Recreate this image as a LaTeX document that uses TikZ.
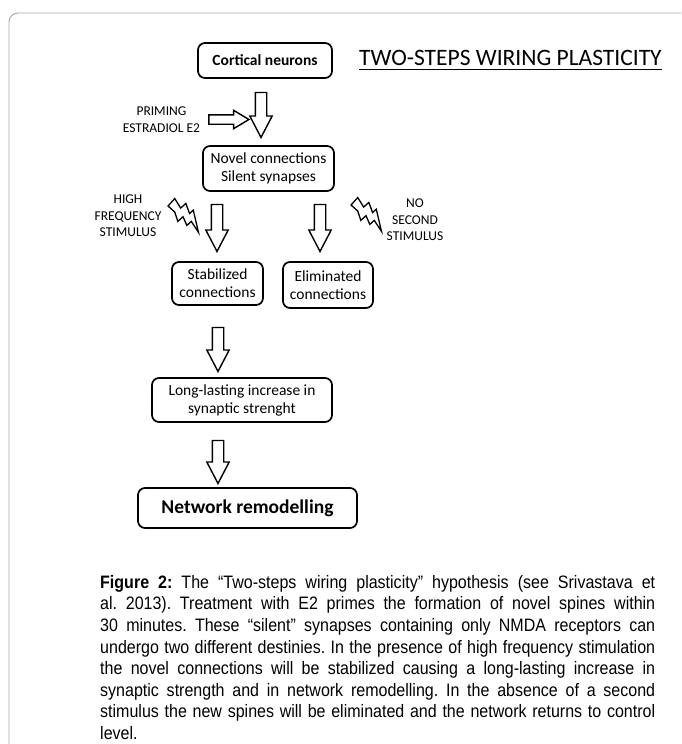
\documentclass[tikz,border=0pt]{standalone}
\usepackage{fontspec}
\newfontfamily\calfont{Carlito}
\newfontfamily\capfont[FakeStretch=0.89]{Liberation Sans}
\usetikzlibrary{arrows.meta,positioning,calc,shapes.arrows}

\begin{document}
\begin{tikzpicture}[
  x=1pt, y=-1pt,
  flowbox/.style={draw,line width=1.7pt,rounded corners=7pt,align=center,inner sep=0pt,font=\calfont\fontsize{15.5}{18}\selectfont},
  downarrow/.style={single arrow,draw,line width=1.4pt,shape border rotate=270,inner sep=5pt,single arrow head extend=5.5pt,single arrow tip angle=55,minimum height=45pt},
  rightarrow/.style={single arrow,draw,line width=1.4pt,inner sep=4pt,single arrow head extend=4.5pt,single arrow tip angle=62,minimum height=40pt},
  sidetext/.style={align=center,inner sep=0pt,font=\calfont\fontsize{13.5}{16.5}\selectfont},
  bolt/.style={line width=1.3pt,line join=miter}
]
\useasboundingbox (0,0) rectangle (681,744);
\clip (0,0) rectangle (681,744);
% outer frame
\draw[gray!70,line width=0.9pt,rounded corners=9pt] (9,13) rectangle (720,790);

% boxes
\node[flowbox,minimum width=134pt,minimum height=35pt] (cortical) at (265,60.5) {\bfseries Cortical neurons};
\node[inner sep=0pt,anchor=base west,font=\calfont\fontsize{23.5}{27}\selectfont] (title) at (359,65) {TWO-STEPS WIRING PLASTICITY};
\draw[line width=0.8pt] ([yshift=-4pt]title.base west) -- ([yshift=-4pt]title.base east);

\node[flowbox,minimum width=131pt,minimum height=45pt] (novel) at (268.5,168.5) {Novel connections\\Silent synapses};
\node[flowbox,minimum width=91pt,minimum height=43pt] (stabilized) at (217.5,283.5) {Stabilized\\connections};
\node[flowbox,minimum width=90pt,minimum height=46pt] (eliminated) at (328,285) {Eliminated\\connections};
\node[flowbox,minimum width=180pt,minimum height=44pt] (lasting) at (242,400) {Long-lasting increase in\\synaptic strenght};
\node[flowbox,minimum width=219pt,minimum height=40pt,font=\calfont\bfseries\fontsize{19.5}{22}\selectfont] (network) at (247.5,508) {Network remodelling};

% block arrows
\node[downarrow] (arrcortical) at (261,109.5) {};
\node[rightarrow] (arrpriming) at (225,119.5) {};
\node[sidetext,left=8pt of arrpriming] (priming) {PRIMING\\ESTRADIOL E2};
\node[downarrow,minimum height=47pt] (arrstab) at (217,222.5) {};
\node[downarrow,minimum height=47pt] (arrelim) at (320,222.5) {};
\node[downarrow,minimum height=44pt] (arrlasting) at (218,344) {};
\node[downarrow,minimum height=43pt] (arrnetwork) at (218,456.5) {};

% stimuli
\node[sidetext] (highfreq) at (128,216) {HIGH\\FREQUENCY\\STIMULUS};
\node[sidetext] (nosecond) at (415,220) {NO\\SECOND\\STIMULUS};
\begin{scope}[shift={(168,206)},rotate=42]
  \draw[bolt] (0,0) -- (10,-1) -- (8,10) -- (15,10) -- (11,20) -- (16,20) -- (5,40) -- (7,27) -- (1,27) -- (4,18) -- (-3,18) -- (1,9) -- cycle;
\end{scope}
\begin{scope}[shift={(351,205)},rotate=42]
  \draw[bolt] (0,0) -- (10,-1) -- (8,10) -- (15,10) -- (11,20) -- (16,20) -- (5,40) -- (7,27) -- (1,27) -- (4,18) -- (-3,18) -- (1,9) -- cycle;
\end{scope}

% caption
\node[anchor=north west,inner sep=0pt,text width=555pt,align=justify,font=\capfont\frenchspacing\fontsize{18}{21.6}\selectfont] (caption) at (100,575) {\textbf{Figure 2:} The “Two-steps wiring plasticity” hypothesis (see Srivastava et\linebreak al. 2013). Treatment with E2 primes the formation of novel spines within\linebreak 30 minutes. These “silent” synapses containing only NMDA receptors can\linebreak undergo two different destinies. In the presence of high frequency stimulation\linebreak the novel connections will be stabilized causing a long-lasting increase in\linebreak synaptic strength and in network remodelling. In the absence of a second\linebreak stimulus the new spines will be eliminated and the network returns to control\linebreak level.};
\end{tikzpicture}
\end{document}
